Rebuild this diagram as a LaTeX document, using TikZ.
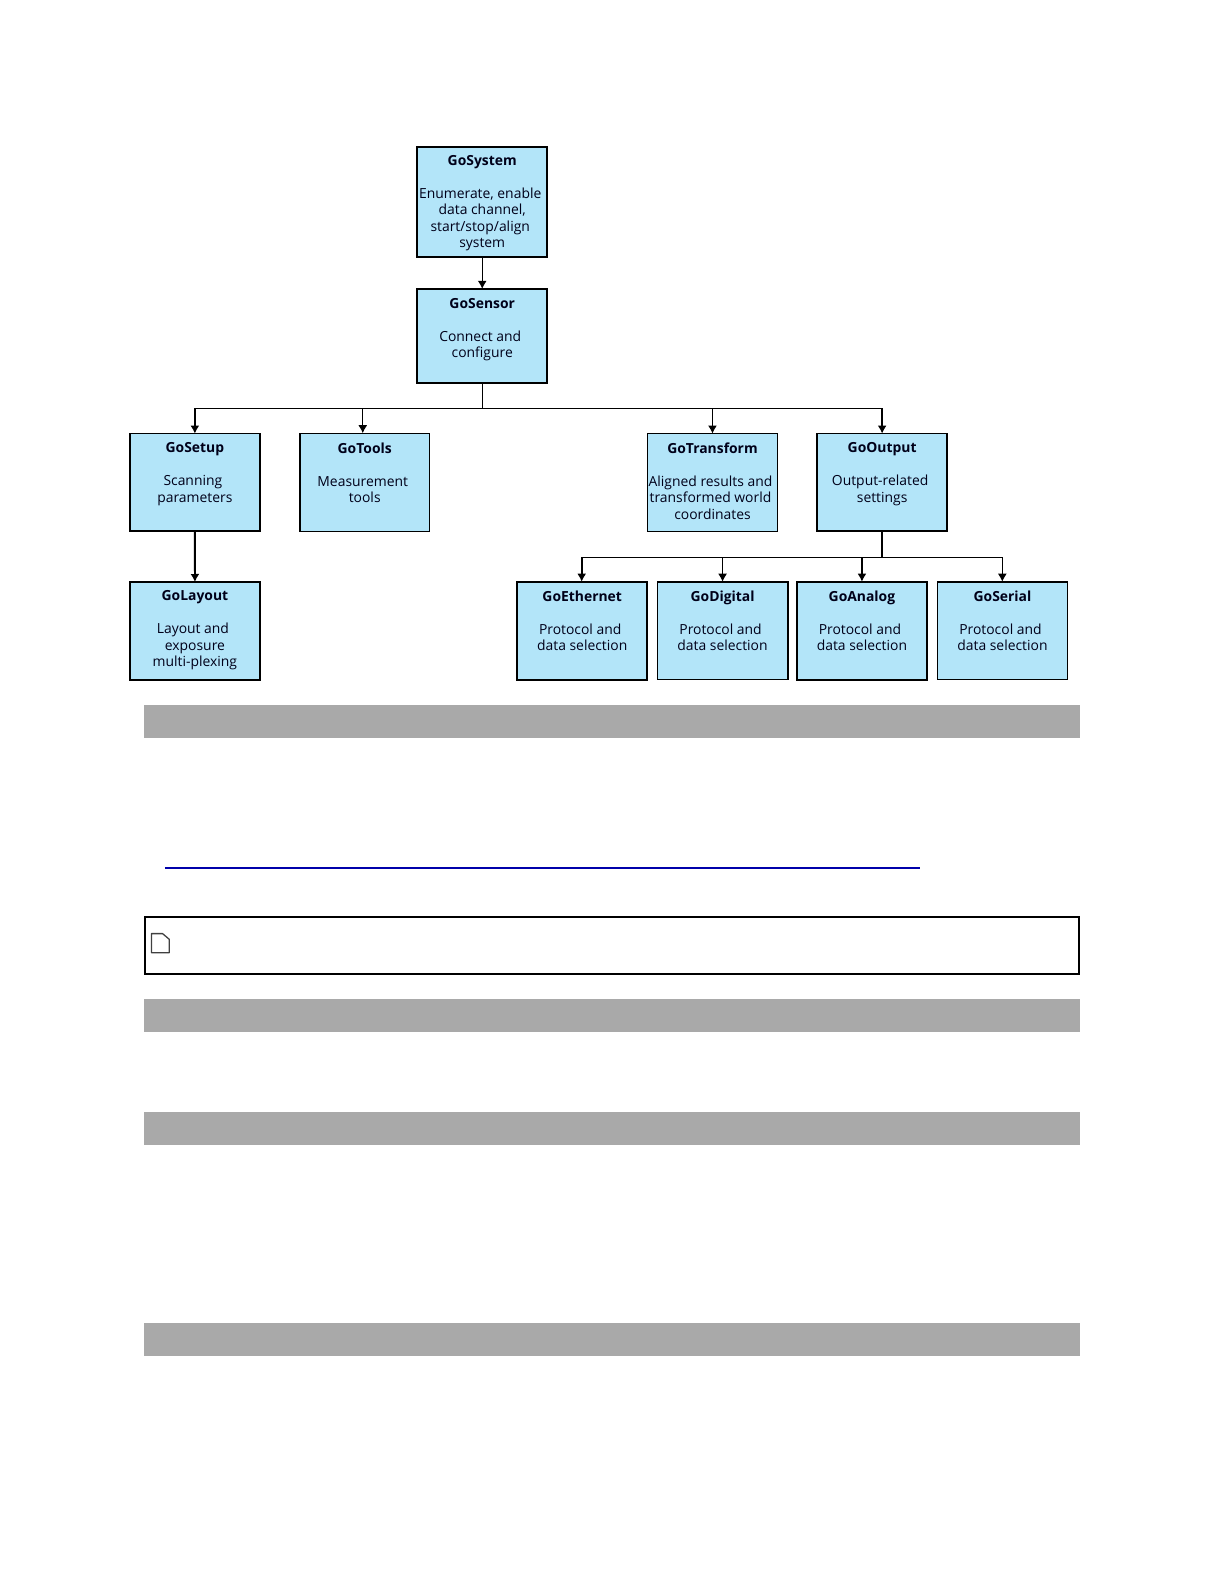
\documentclass[tikz,border=0pt]{standalone}
\usepackage{fontspec}
\setmainfont{Open Sans}
\usetikzlibrary{arrows.meta}
\definecolor{boxblue}{HTML}{B3E5F9}
\definecolor{bargray}{HTML}{A9A9A9}
\definecolor{linkblue}{HTML}{0000AA}
\tikzset{
  x=1.0099pt,y=-1.0099pt,
  boxfill/.style={draw=black,fill=boxblue,line width=#1,rectangle,inner sep=0pt,outer sep=0pt},
  boxtext/.style={anchor=north,align=center,inner sep=0pt,text=black!90!blue,
    font=\fontsize{13.9pt}{16.5pt}\selectfont},
  conn/.style={draw=black,line width=1.2pt},
  arrowconn/.style={conn,-{Latex[length=8pt,width=9pt]}},
  graybar/.style={fill=bargray,draw=none},
}
\newcommand{\tr}{\hspace{4pt}\null}
\newcommand{\gobox}[8][9pt]{% text drop; name, l, t, r, b, line width, text
  \node[boxfill=#7,minimum width={(#5-#3)*1.0099pt},minimum height={(#6-#4)*1.0099pt}] (#2) at ({(#3+#5)/2},{(#4+#6)/2}) {};
  \node[boxtext] (#2text) at ([yshift=-#1]#2.north) {#8};
}
\begin{document}
\begin{tikzpicture}
\useasboundingbox (0,0) rectangle (1212,1568.5);
\fill[white] (0,0) rectangle (1212,1568.5);
\coordinate (bus) at (477.5,404.5);
\coordinate (busb) at (873.5,552);
\coordinate (toolsin) at (359.2,429);
\coordinate (digin) at (715.5,576);
\coordinate (anain) at (853.5,576);
\coordinate (serin) at (992.5,576);
\coordinate (ethin) at (576,576);
\gobox[7.5pt]{system}{413}{146}{542}{254}{2pt}{\textbf{GoSystem}\\[16.5pt]Enumerate, enable\tr\\data channel,\\start/stop/align\tr\\system}
\gobox{sensor}{413}{286}{542}{379}{2pt}{\textbf{GoSensor}\\[16.5pt]Connect and\tr\\configure}
\gobox{setup}{128.4}{429.3}{257.5}{526}{1.7pt}{\textbf{GoSetup}\\[16.5pt]Scanning\tr\\parameters}
\gobox{tools}{297}{429.3}{425.3}{526}{1.2pt}{\textbf{GoTools}\\[16.5pt]Measurement\tr\\tools}
\gobox{transform}{641}{429.3}{770}{526}{1.2pt}{\textbf{GoTransform}\\[16.5pt]Aligned results and\tr\\transformed world\tr\\coordinates}
\gobox{output}{809}{429.3}{938}{526}{1.7pt}{\textbf{GoOutput}\\[16.5pt]Output-related\tr\\settings}
\gobox[8.7pt]{layout}{128.5}{576.3}{257.5}{673}{2pt}{\textbf{GoLayout}\\[16.5pt]Layout and\tr\\exposure\\multi-plexing}
\gobox[8.7pt]{ethernet}{512}{576.3}{641}{673}{2pt}{\textbf{GoEthernet}\\[16.5pt]Protocol and\tr\\data selection}
\gobox[8.7pt]{digital}{651}{576.3}{780}{673}{1.6pt}{\textbf{GoDigital}\\[16.5pt]Protocol and\tr\\data selection}
\gobox[8.7pt]{analog}{789}{576.3}{918}{673}{2pt}{\textbf{GoAnalog}\\[16.5pt]Protocol and\tr\\data selection}
\gobox[8.7pt]{serial}{928.3}{576.3}{1057}{673}{1.6pt}{\textbf{GoSerial}\\[16.5pt]Protocol and\tr\\data selection}
% connectors
\draw[arrowconn] (system.south) -- (sensor.north);
\draw[conn] (sensor.south) -- (bus);
\draw[conn] (setup.north |- bus) -- (output.north |- bus);
\draw[arrowconn,line width=1.4pt] (setup.north |- bus) -- (setup.north);
\draw[arrowconn,line width=1.4pt] (toolsin |- bus) -- (toolsin);
\draw[arrowconn] (transform.north |- bus) -- (transform.north);
\draw[arrowconn,line width=1.4pt] (output.north |- bus) -- (output.north);
\draw[arrowconn,line width=1.8pt] (setup.south) -- (layout.north);
\draw[conn,line width=1.8pt] (output.south) -- (busb);
\draw[conn] (ethin |- busb) -- (serin |- busb);
\draw[arrowconn,line width=1.8pt] (ethin |- busb) -- (ethin);
\draw[arrowconn] (digin |- busb) -- (digin);
\draw[arrowconn,line width=1.8pt] (anain |- busb) -- (anain);
\draw[arrowconn] (serin |- busb) -- (serin);
% bars
\fill[graybar] (142.7,698) rectangle (1069.3,730.7);
\fill[graybar] (142.7,989) rectangle (1069.3,1021.7);
\fill[graybar] (142.7,1101) rectangle (1069.3,1133.7);
\fill[graybar] (142.7,1310) rectangle (1069.3,1342.7);
% link rule
\draw[linkblue,line width=2pt] (163.3,859.2) -- (911,859.2);
% note box
\draw[black,line width=2pt] (143.7,908) rectangle (1068.7,964);
\draw[black!75,line width=1.3pt,line join=round] (150,924.5) -- (161,924.5) -- (167.5,930) -- (167.5,943.5) -- (150,943.5) -- cycle;
\end{tikzpicture}
\end{document}
